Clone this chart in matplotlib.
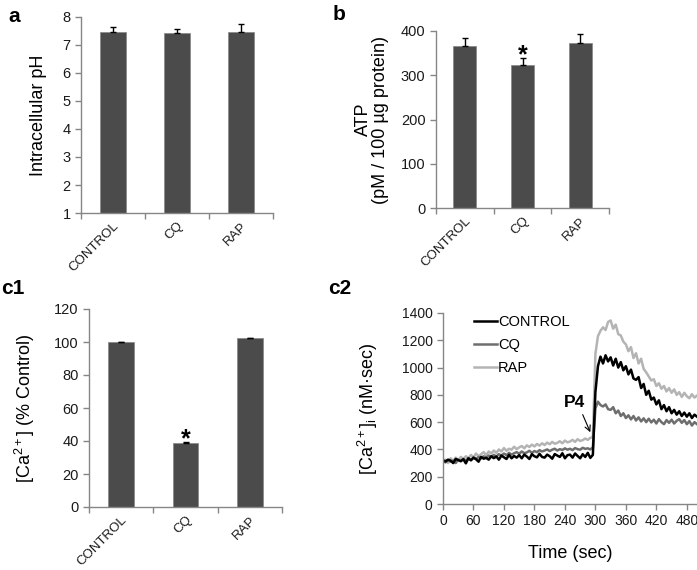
import matplotlib
matplotlib.use("Agg")
import matplotlib.pyplot as plt
import numpy as np

plt.rcParams['font.family'] = ['Liberation Sans', 'DejaVu Sans']
plt.rcParams['mathtext.fontset'] = 'custom'
plt.rcParams['mathtext.rm'] = 'Liberation Sans'
plt.rcParams['mathtext.it'] = 'Liberation Sans:italic'

# ---------------- data ----------------
groups = ["CONTROL", "CQ", "RAP"]

ph_mean = [7.48, 7.42, 7.45]
ph_err = [0.17, 0.16, 0.31]

atp_mean = [365, 324, 372]
atp_err = [20, 14, 21]

ca_pct_mean = [100.0, 39.0, 102.3]
ca_pct_err = [0.3, 0.4, 0.4]

time_sec = list(range(0, 505, 5))
ca_control = [
    320, 312, 325, 318, 300, 330, 322, 315, 328, 298,
    335, 320, 340, 328, 310, 345, 332, 338, 325, 350,
    336, 348, 325, 355, 342, 330, 360, 335, 352, 340,
    358, 335, 362, 348, 330, 365, 350, 342, 368, 345,
    340, 362, 350, 332, 366, 355, 345, 372, 335, 358,
    362, 340, 370, 352, 335, 365, 345, 375, 338, 360,
    820, 1010, 1080, 1030, 1090, 1045, 1075, 1015, 1065, 1000,
    1040, 980, 1010, 950, 985, 920, 910, 930, 850, 880,
    800, 830, 765, 780, 730, 760, 695, 725, 680, 710,
    665, 690, 655, 680, 645, 670, 640, 665, 630, 655,
    640,
]
ca_cq = [
    315, 305, 322, 310, 318, 300, 325, 312, 330, 318,
    335, 322, 340, 330, 345, 335, 350, 338, 355, 345,
    360, 348, 365, 355, 370, 358, 375, 362, 372, 380,
    368, 385, 372, 378, 390, 375, 388, 380, 395, 385,
    392, 400, 388, 398, 405, 392, 402, 396, 408, 398,
    405, 395, 410, 402, 398, 412, 404, 408, 400, 415,
    700, 750, 725, 715, 730, 695, 690, 710, 665, 685,
    645, 665, 630, 650, 620, 645, 612, 635, 605, 628,
    600, 625, 598, 618, 590, 622, 600, 585, 615, 595,
    618, 590, 610, 622, 595, 615, 585, 608, 575, 600,
    585,
]
ca_rap = [
    305, 325, 300, 335, 315, 340, 320, 345, 330, 350,
    335, 360, 342, 370, 350, 365, 380, 358, 385, 370,
    392, 375, 400, 385, 410, 390, 405, 398, 420, 402,
    415, 425, 408, 430, 418, 435, 422, 440, 428, 445,
    432, 450, 438, 455, 442, 448, 460, 445, 465, 452,
    458, 470, 455, 475, 462, 468, 480, 470, 485, 490,
    1100, 1230, 1270, 1295, 1275, 1335, 1345, 1285, 1315, 1245,
    1235, 1190, 1170, 1120, 1150, 1070, 1105, 1030, 1065, 990,
    965, 935, 905, 915, 865, 885, 845, 865, 825, 850,
    815, 840, 800, 820, 785, 815, 790, 775, 805, 780,
    795,
]

# ---------------- style ----------------
W, H = 697, 570
fig = plt.figure(figsize=(W / 100, H / 100), dpi=100)
SPINE = '#868686'
BAR = '#4b4b4b'
TICK_FS = 10.5
CAT_FS = 9.5
LABEL_FS = 13


def frac(l, t, r, b):
    return [l / W, 1 - b / H, (r - l) / W, (b - t) / H]


def style(ax, fs=TICK_FS):
    for s in ['top', 'right']:
        ax.spines[s].set_visible(False)
    for s in ['left', 'bottom']:
        ax.spines[s].set_color(SPINE)
        ax.spines[s].set_linewidth(1.0)
    ax.tick_params(axis='both', which='both', colors=SPINE, labelcolor='#1a1a1a',
                   labelsize=fs, direction='out', length=4, width=1)


def bar_panel(ax, means, errs, ylim, yticks):
    x = np.arange(len(groups))
    ax.bar(x, means, width=0.4, color=BAR, edgecolor='#8c8c8c', linewidth=0.6, zorder=2)
    ax.errorbar(x, means, yerr=[[0] * len(errs), errs], fmt='none', ecolor='black',
                elinewidth=1, capsize=2.5, capthick=1, zorder=3)
    ax.set_xlim(-0.5, 2.5)
    ax.set_ylim(*ylim)
    ax.set_yticks(yticks)
    style(ax)
    ax.set_xticks(x, groups, rotation=45, ha='right', va='top', rotation_mode='anchor',
                  fontsize=CAT_FS)
    ax.set_xticks([-0.5, 0.5, 1.5, 2.5], minor=True)
    ax.tick_params(axis='x', which='major', length=0, pad=5, labelsize=CAT_FS)


# panel a
ax_a = fig.add_axes(frac(81, 17, 273, 213))
bar_panel(ax_a, ph_mean, ph_err, (1, 8), range(1, 9))
ax_a.set_ylabel('Intracellular pH', fontsize=LABEL_FS)
ax_a.yaxis.set_label_coords((47 - 81) / 192, 0.5)
fig.text(14 / W, 1 - 16 / H, 'a', fontsize=15, fontweight='bold', ha='center', va='center')

# panel b
ax_b = fig.add_axes(frac(436, 31, 609, 208))
bar_panel(ax_b, atp_mean, atp_err, (0, 400), range(0, 401, 100))
ax_b.set_ylabel('ATP\n(pM / 100 µg protein)', fontsize=LABEL_FS, linespacing=1.0)
ax_b.yaxis.set_label_coords((389 - 436) / 173, 0.5)
ax_b.text(1, 330, '*', ha='center', va='baseline', fontsize=18, fontweight='bold')
fig.text(339 / W, 1 - 14 / H, 'b', fontsize=15, fontweight='bold', ha='center', va='center')

# panel c1
ax_c1 = fig.add_axes(frac(89, 309, 282, 507))
bar_panel(ax_c1, ca_pct_mean, ca_pct_err, (0, 120), range(0, 121, 20))
ax_c1.set_ylabel(r'[Ca$\mathregular{^{2+}}$] (% Control)', fontsize=LABEL_FS)
ax_c1.yaxis.set_label_coords((37 - 89) / 193, 0.5)
ax_c1.text(1, 36.5, '*', ha='center', va='baseline', fontsize=18, fontweight='bold')
fig.text(13 / W, 1 - 289 / H, 'c1', fontsize=15, fontweight='bold', ha='center', va='center')

# panel c2
ax_c2 = fig.add_axes(frac(443, 313, 697, 504))
l_rap, = ax_c2.plot(time_sec, ca_rap, color='#b4b4b4', lw=1.8)
l_cq, = ax_c2.plot(time_sec, ca_cq, color='#6e6e6e', lw=1.8)
l_ctl, = ax_c2.plot(time_sec, ca_control, color='black', lw=1.8)
ax_c2.set_xlim(0, 500)
ax_c2.set_ylim(0, 1400)
ax_c2.set_xticks(range(0, 481, 60))
ax_c2.set_yticks(range(0, 1401, 200))
style(ax_c2, fs=10)
ax_c2.set_ylabel(r'[Ca$\mathregular{^{2+}}$]$\mathregular{_i}$ (nM·sec)', fontsize=LABEL_FS)
ax_c2.yaxis.set_label_coords((380 - 443) / 254, 0.5)
ax_c2.set_xlabel('Time (sec)', fontsize=LABEL_FS, labelpad=12)
leg = ax_c2.legend([l_ctl, l_cq, l_rap], groups, loc='upper left',
                   bbox_to_anchor=(0.07, 1.06), frameon=False, fontsize=10.5,
                   handlelength=1.6, handletextpad=0.05, labelspacing=0.62)
ax_c2.text(258, 745, 'P4', fontsize=12.5, fontweight='bold', ha='center', va='center')
ax_c2.annotate('', xy=(290, 526), xytext=(275, 655),
               arrowprops=dict(arrowstyle='->', color='black', lw=0.8,
                               shrinkA=0, shrinkB=0))
fig.text(340 / W, 1 - 288 / H, 'c2', fontsize=15, fontweight='bold', ha='center', va='center')

fig.savefig('out.png', dpi=100)
